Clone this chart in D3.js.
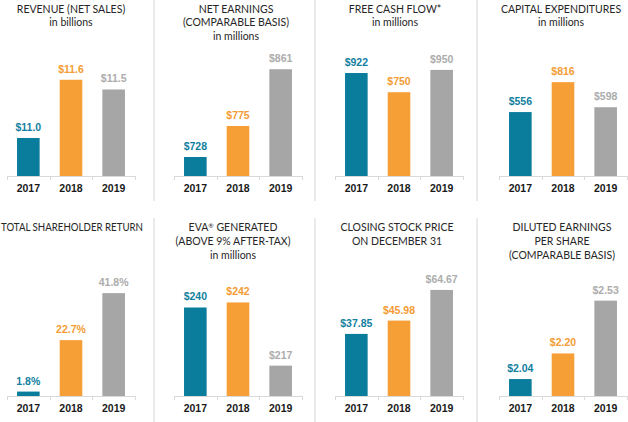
<!DOCTYPE html>
<html>
<head>
<meta charset="utf-8">
<script src="https://cdn.jsdelivr.net/npm/d3@7/dist/d3.min.js"></script>
<style>
  html, body { margin: 0; padding: 0; background: #ffffff; }
  svg { display: block; }
</style>
</head>
<body>
<script>
// ---------- DATA ----------
const years = ["2017", "2018", "2019"];

const revenue = [11.0, 11.6, 11.5];
const revenueLabels = ["$11.0", "$11.6", "$11.5"];

const netEarnings = [728, 775, 861];
const netEarningsLabels = ["$728", "$775", "$861"];

const freeCashFlow = [922, 750, 950];
const freeCashFlowLabels = ["$922", "$750", "$950"];

const capex = [556, 816, 598];
const capexLabels = ["$556", "$816", "$598"];

const tsr = [1.8, 22.7, 41.8];
const tsrLabels = ["1.8%", "22.7%", "41.8%"];

const eva = [240, 242, 217];
const evaLabels = ["$240", "$242", "$217"];

const stockPrice = [37.85, 45.98, 64.67];
const stockPriceLabels = ["$37.85", "$45.98", "$64.67"];

const eps = [2.04, 2.20, 2.53];
const epsLabels = ["$2.04", "$2.20", "$2.53"];

const revenueTitle = ["REVENUE (NET SALES)", "in billions"];
const netEarningsTitle = ["NET EARNINGS", "(COMPARABLE BASIS)", "in millions"];
const freeCashFlowTitle = ["FREE CASH FLOW*", "in millions"];
const capexTitle = ["CAPITAL EXPENDITURES", "in millions"];
const tsrTitle = ["TOTAL SHAREHOLDER RETURN"];
const evaTitle = ["EVA® GENERATED", "(ABOVE 9% AFTER-TAX)", "in millions"];
const stockPriceTitle = ["CLOSING STOCK PRICE", "ON DECEMBER 31"];
const epsTitle = ["DILUTED EARNINGS", "PER SHARE", "(COMPARABLE BASIS)"];

// ---------- LAYOUT / STYLE ----------
const W = 628, H = 422;
const barColors = ["#0b7d9c", "#f79f37", "#a6a6a6"];
const labelColors = ["#137f9f", "#f39c33", "#acacac"];

const colX = [[7, 135], [174, 302], [335, 463], [499, 627]];
const rowBase = [176, 396];
const plotH = 110;
const titleBase = [[12.5, 26.3, 40], [231, 245, 258.5]];
const titleCx = [[71, 236, 395, 561], [72, 233, 397, 562]];
const titleMaxW = 142;

const panels = [
  { row: 0, col: 0, values: revenue, labels: revenueLabels, title: revenueTitle, domain: [10.608, 11.742] },
  { row: 0, col: 1, values: netEarnings, labels: netEarningsLabels, title: netEarningsTitle, domain: [699.2, 865.9] },
  { row: 0, col: 2, values: freeCashFlow, labels: freeCashFlowLabels, title: freeCashFlowTitle, domain: [0, 984.8] },
  { row: 0, col: 3, values: capex, labels: capexLabels, title: capexTitle, domain: [0, 956.5] },
  { row: 1, col: 0, values: tsr, labels: tsrLabels, title: tsrTitle, domain: [0, 44.7] },
  { row: 1, col: 1, values: eva, labels: evaLabels, title: evaTitle, domain: [205, 248.5] },
  { row: 1, col: 2, values: stockPrice, labels: stockPriceLabels, title: stockPriceTitle, domain: [0, 67.07] },
  { row: 1, col: 3, values: eps, labels: epsLabels, title: epsTitle, domain: [1.934, 2.6215] }
];

const svg = d3.select("body").append("svg")
  .attr("width", W).attr("height", H)
  .attr("viewBox", `0 0 ${W} ${H}`);

// separators
const sepX = [154, 315, 477];
const sepY = [[0, 201], [218, 422]];
sepX.forEach(sx => sepY.forEach(([a, b]) => {
  svg.append("line")
    .attr("x1", sx).attr("x2", sx).attr("y1", a).attr("y2", b)
    .attr("stroke", "#e3e3e3").attr("stroke-width", 1.5);
}));

panels.forEach(p => {
  const g = svg.append("g");
  const base = rowBase[p.row];
  const [x0, x1] = colX[p.col];

  const x = d3.scaleBand().domain(years).range([x0, x1])
    .paddingInner(0.47).paddingOuter(0.235);
  const y = d3.scaleLinear().domain(p.domain).range([base, base - plotH]);

  const data = years.map((yr, i) => ({ year: yr, value: p.values[i], label: p.labels[i], i }));

  // bars
  g.selectAll("rect.bar").data(data).join("rect")
    .attr("class", "bar")
    .attr("x", d => x(d.year))
    .attr("width", x.bandwidth())
    .attr("y", d => y(d.value))
    .attr("height", d => base - y(d.value))
    .attr("fill", d => barColors[d.i]);

  // value labels
  g.selectAll("text.val").data(data).join("text")
    .attr("class", "val")
    .attr("x", d => x(d.year) + x.bandwidth() / 2)
    .attr("y", d => y(d.value) - 7)
    .attr("text-anchor", "middle")
    .attr("font-family", "'Liberation Sans', Arial, sans-serif")
    .attr("font-weight", "bold")
    .attr("font-size", 10.5)
    .attr("fill", d => labelColors[d.i])
    .text(d => d.label);

  // x axis (labels)
  const axis = g.append("g")
    .attr("transform", `translate(0,${base})`)
    .call(d3.axisBottom(x).tickSize(0).tickPadding(9));
  axis.select(".domain").remove();
  axis.selectAll("text")
    .attr("font-family", "'Liberation Sans', Arial, sans-serif")
    .attr("font-weight", "bold")
    .attr("font-size", 10.5)
    .attr("fill", "#1a1a1a");

  // baseline and boundary ticks
  g.append("line")
    .attr("x1", x0).attr("x2", x1).attr("y1", base + 0.5).attr("y2", base + 0.5)
    .attr("stroke", "#d9d9d9").attr("stroke-width", 1);
  d3.range(years.length + 1).forEach(k => {
    const tx = Math.round(x0 + k * x.step()) + 0.5;
    g.append("line")
      .attr("x1", tx).attr("x2", tx).attr("y1", base).attr("y2", base + 4)
      .attr("stroke", "#d9d9d9").attr("stroke-width", 1);
  });

  // title
  p.title.forEach((t, li) => {
    const txt = g.append("text")
      .attr("x", titleCx[p.row][p.col])
      .attr("y", titleBase[p.row][li])
      .attr("text-anchor", "middle")
      .attr("font-family", "Lato, 'Open Sans', sans-serif")
      .attr("font-size", 10.5)
      .attr("fill", "#262626");
    const parts = t.split("®");
    parts.forEach((part, pi) => {
      if (pi > 0) {
        txt.append("tspan").attr("font-size", 6.5).attr("dy", -3.5).text("®");
        txt.append("tspan").attr("dy", 3.5).text(part);
      } else {
        txt.append("tspan").text(part);
      }
    });
    const wNat = txt.node().getComputedTextLength();
    if (wNat > titleMaxW) {
      txt.attr("textLength", titleMaxW).attr("lengthAdjust", "spacingAndGlyphs");
    }
  });
});
</script>
</body>
</html>
